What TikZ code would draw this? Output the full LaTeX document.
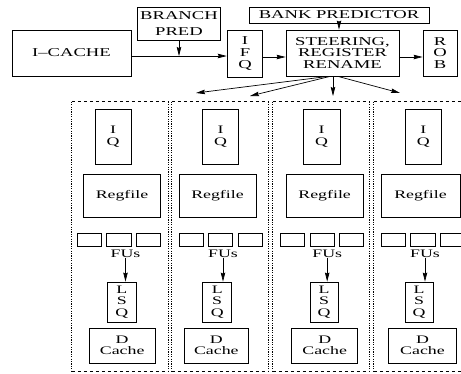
\documentclass[tikz,border=0pt]{standalone}
\usepackage{fontspec}
\setmainfont{Liberation Serif}[FakeStretch=1.55]
\usetikzlibrary{arrows.meta}
\tikzset{
  box/.style={draw, line width=0.8pt, inner sep=0pt, align=center, font=\fontsize{12}{11.6}\selectfont},
  sbox/.style={box, font=\fontsize{11.5}{11.5}\selectfont},
  lbl/.style={inner sep=0pt, font=\fontsize{11.5}{11.5}\selectfont},
  arr/.style={line width=0.7pt, -{Stealth[length=9pt,width=4.5pt,inset=1pt]}},
  clH/.style={line width=0.7pt, dash pattern=on 3pt off 3pt},
  clV/.style={line width=0.8pt, dash pattern=on 1.2pt off 1.2pt},
  clnode/.style={draw=none, inner sep=0pt, minimum width=96pt, minimum height=269pt}
}
\begin{document}
\begin{tikzpicture}[x=1pt,y=-1pt]
\useasboundingbox (0,0) rectangle (461,373);
\clip (0,0) rectangle (461,373);
% top row
\node[box, minimum width=119pt, minimum height=46pt] (icache) at (71.5,53) {I–CACHE};
\node[box, minimum width=83.5pt, minimum height=33pt, font=\fontsize{12}{16}\selectfont] (bp) at (179,23.5) {BRANCH\\PRED};
\node[box, minimum width=35.7pt, minimum height=47pt] (ifq) at (245,53.5) {I\\F\\Q};
\node[box, minimum width=180pt, minimum height=16pt] (bank) at (339,15) {BANK PREDICTOR};
\node[box, minimum width=113pt, minimum height=46pt] (steer) at (342.5,53) {STEERING,\\REGISTER\\RENAME};
\node[box, minimum width=34pt, minimum height=46pt] (rob) at (440,53) {R\\O\\B};
\coordinate (j) at (179,56);
\coordinate (q1) at ([yshift=-3.5pt]ifq.east);
\coordinate (q2) at ([yshift=-4pt]steer.east);
\draw[arr] (icache.east |- j) -- (ifq.west |- j);
\draw[arr] (bp.south) -- (j);
\draw[arr] (q1) -- (steer.west |- q1);
\draw[arr] (q2) -- (rob.west |- q2);
\draw[arr] (bank.south) -- (bank.south |- steer.north);
% dispatch arrows
\coordinate (e1) at (196,93);
\coordinate (e2) at (250,96);
\coordinate (e3) at (333,96);
\coordinate (e4) at (400,93);
\draw[arr] (steer.south -| 328,0) -- (e1);
\draw[arr] (steer.south -| 330,0) -- (e2);
\draw[arr] (steer.south -| 333,0) -- (e3);
\draw[arr] (steer.south -| 338,0) -- (e4);
% clusters
\foreach \i/\cl/\iql/\iqr/\rfl/\rfr/\fa/\fb/\fc/\fd/\fe/\ff/\ax/\lql/\lqr/\dcl/\dcr in {
 1/72/95/131/83.3/160.7/77.3/101.7/106.7/131/136.7/160.7/125.5/107.7/136/89.3/155,
 2/172/202.7/238.3/179/256/179/203.3/208.3/232.7/238.3/262/223/202.7/231.7/184.3/248.3,
 3/273/303.3/340/286/363.3/280.7/304.3/310/334/339.3/363.3/327.2/310/338.3/291.7/357.7,
 4/374/405/441.7/381/460/381/405/410.7/435/440.7/465/425/405/433.3/388.3/456.7}{
  \node[clnode] (c\i) at ({\cl+48},236.5) {};
  \draw[clH] (c\i.north west) -- (c\i.north east);
  \draw[clH] (c\i.south west) -- (c\i.south east);
  \draw[clV] (c\i.north west) -- (c\i.south west);
  \draw[clV] (c\i.north east) -- (c\i.south east);
  \node[sbox, minimum width={(\iqr-\iql)*1pt}, minimum height=55pt] (iq\i) at ({(\iql+\iqr)/2},136.5) {I\\Q};
  \node[sbox, minimum width={(\rfr-\rfl)*1pt}, minimum height=43pt] (rf\i) at ({(\rfl+\rfr)/2},195.5) {Regfile};
  \node[box, minimum width={(\fb-\fa)*1pt}, minimum height=13.7pt] (fua\i) at ({(\fa+\fb)/2},240) {};
  \node[box, minimum width={(\fd-\fc)*1pt}, minimum height=13.7pt] (fub\i) at ({(\fc+\fd)/2},240) {};
  \node[box, minimum width={(\ff-\fe)*1pt}, minimum height=13.7pt] (fuc\i) at ({(\fe+\ff)/2},240) {};
  \node[lbl, anchor=north] (ful\i) at (\ax,249.5) {FUs};
  \node[sbox, minimum width={(\lqr-\lql)*1pt}, minimum height=40pt] (lsq\i) at ({(\lql+\lqr)/2},302) {L\\S\\Q};
  \node[sbox, minimum width={(\dcr-\dcl)*1pt}, minimum height=35pt] (dc\i) at ({(\dcl+\dcr)/2},345.5) {D\\Cache};
  \draw[arr] (ful\i.south) -- (ful\i.south |- lsq\i.north);
}
\end{tikzpicture}
\end{document}
